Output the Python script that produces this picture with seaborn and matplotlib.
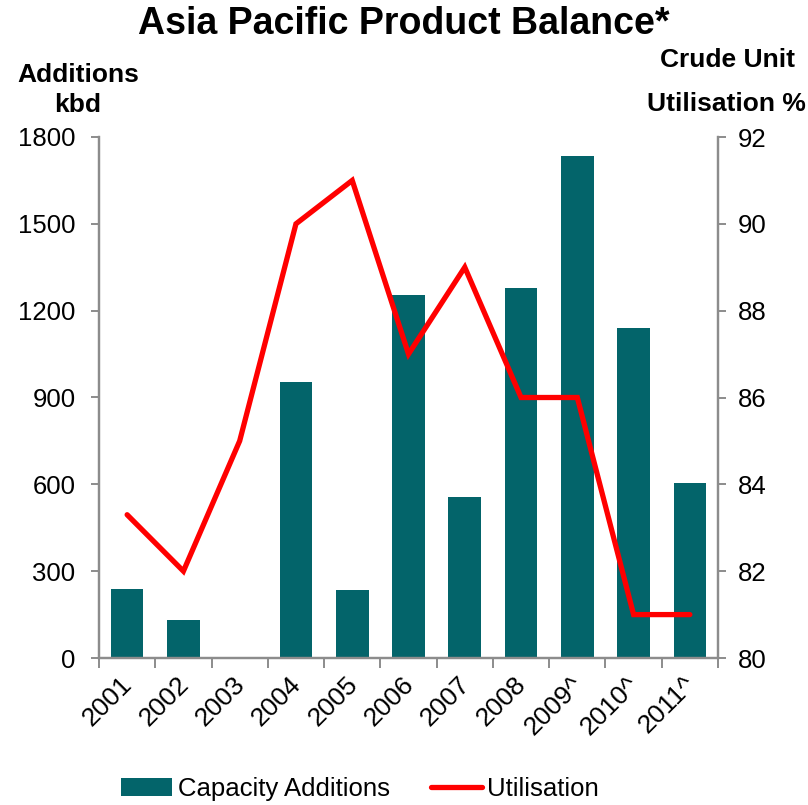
import matplotlib
matplotlib.use("Agg")
import matplotlib.pyplot as plt
import matplotlib.transforms as mtransforms
from matplotlib.lines import Line2D
from matplotlib.patches import Patch
import seaborn as sns
import pandas as pd
import numpy as np

years = ["2001", "2002", "2003", "2004", "2005", "2006", "2007", "2008", "2009^", "2010^", "2011^"]
capacity_additions = [240, 130, 0, 955, 235, 1255, 555, 1280, 1735, 1140, 605]
utilisation = [83.3, 82, 85, 90, 91, 87, 89, 86, 86, 81, 81]

left_ticks = [0, 300, 600, 900, 1200, 1500, 1800]
right_ticks = [80, 82, 84, 86, 88, 90, 92]

bar_color = "#03646A"
line_color = "#FF0000"
axis_gray = "#8C8C8C"

sns.set_theme(style="white")
plt.rcParams["font.family"] = ["Liberation Sans", "DejaVu Sans"]
plt.rcParams["text.color"] = "black"
plt.rcParams["xtick.color"] = "black"
plt.rcParams["ytick.color"] = "black"

df = pd.DataFrame({"year": years, "additions": capacity_additions, "util": utilisation})

fig = plt.figure(figsize=(8.08, 8.05), dpi=100)
ax = fig.add_axes([99 / 808, 1 - 658 / 805, (718 - 99) / 808, (658 - 137) / 805])

sns.barplot(data=df, x="year", y="additions", color=bar_color, width=0.58,
            saturation=1, ax=ax, edgecolor="none")
ax.set_ylim(0, 1800)
ax.set_xlim(-0.5, len(years) - 0.5)
ax.set_yticks(left_ticks)
ax.set_xlabel("")
ax.set_ylabel("")

ax2 = ax.twinx()
sns.lineplot(data=df, x=np.arange(len(years)), y="util", color=line_color,
             linewidth=3.8, ax=ax2, solid_joinstyle="miter")
ax2.set_ylim(80, 92)
ax2.set_yticks(right_ticks)
ax2.set_ylabel("")
ax2.set_xlim(-0.5, len(years) - 0.5)

for a in (ax, ax2):
    for side in ("left", "right", "bottom"):
        a.spines[side].set_color(axis_gray)
        a.spines[side].set_linewidth(1.6)
    a.spines["top"].set_visible(False)

ax.tick_params(axis="y", which="major", direction="out", length=6, width=1.4,
               color=axis_gray, labelsize=18.5, pad=11, left=True, labelcolor="black")
ax2.tick_params(axis="y", which="major", direction="out", length=6, width=1.4,
                color=axis_gray, labelsize=18.5, pad=8, right=True, labelcolor="black")

# category ticks sit on the boundaries between bars
ax.set_xticks(np.arange(len(years)))
ax.set_xticks(np.arange(-0.5, len(years), 1.0), minor=True)
ax.tick_params(axis="x", which="major", length=0, pad=10)
ax.tick_params(axis="x", which="minor", direction="out", length=7, width=1.4,
               color=axis_gray, bottom=True)
ax.set_xticklabels(years, rotation=45, ha="right", rotation_mode="anchor",
                   fontsize=19, color="black")
shift = mtransforms.ScaledTranslation(-7 / 100, 0, fig.dpi_scale_trans)
for lbl in ax.get_xticklabels():
    lbl.set_transform(lbl.get_transform() + shift)
ax2.tick_params(axis="x", bottom=False, labelbottom=False)

fig.text(0.5, 1 - 24 / 805, "Asia Pacific Product Balance*", ha="center", va="center",
         fontsize=27, fontweight="bold")
fig.text(78 / 808, 1 - 75 / 805, "Additions", ha="center", va="center",
         fontsize=19, fontweight="bold")
fig.text(78 / 808, 1 - 105 / 805, "kbd", ha="center", va="center",
         fontsize=19, fontweight="bold")
fig.text(795 / 808, 1 - 60 / 805, "Crude Unit", ha="right", va="center",
         fontsize=19, fontweight="bold")
fig.text(806 / 808, 1 - 104 / 805, "Utilisation %", ha="right", va="center",
         fontsize=19, fontweight="bold")

handles = [Patch(facecolor=bar_color, edgecolor="none"),
           Line2D([0], [0], color=line_color, linewidth=3.8)]
fig.legend(handles, ["Capacity Additions", "Utilisation"], loc="center",
           bbox_to_anchor=(360 / 808, 1 - 789 / 805), ncol=2, frameon=False,
           fontsize=18.5, handlelength=2.0, handleheight=0.7, handletextpad=0.2,
           columnspacing=1.6)

fig.savefig("out.png", dpi=100)
